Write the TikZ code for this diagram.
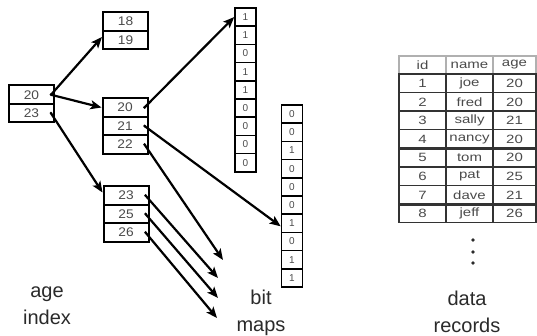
\documentclass[tikz,border=0pt]{standalone}
\usepackage{fontspec}
\setmainfont{Liberation Sans}
\usetikzlibrary{arrows.meta,calc}
\definecolor{celltxt}{HTML}{4A4A4A}
\definecolor{tabline}{HTML}{333333}
\definecolor{headline}{HTML}{B0B0B0}
\definecolor{labeltxt}{HTML}{2A2A2A}
\newcommand{\wid}[1]{\scalebox{1.25}[1]{#1}}
\begin{document}
\begin{tikzpicture}[x=1pt,y=-1pt,
  cell/.style={draw=black,line width=2pt,minimum width=45pt,minimum height=18.5pt,inner sep=0pt,
    font=\fontsize{12.5}{12.5}\selectfont,text=celltxt},
  bitcell/.style={draw=black,line width=1.7pt,minimum width=21pt,minimum height=18.2pt,inner sep=0pt,
    font=\fontsize{10}{10}\selectfont,text=celltxt},
  ptr/.style={line width=2.2pt,-{Stealth[length=11pt,width=9pt,inset=2.5pt]}},
  startdot/.style={fill=black},
  tabtxt/.style={inner sep=0pt,font=\fontsize{12}{12}\selectfont,text=celltxt},
  label/.style={align=center,font=\fontsize{20}{27}\selectfont,text=labeltxt,inner sep=0pt}]
\useasboundingbox (0,0) rectangle (537,336);

% index nodes
\node[cell] (r20) at (31.5,94.75) {\scalebox{1.1}[1]{20}};
\node[cell] (r23) at (31.5,113.25) {\scalebox{1.1}[1]{23}};
\node[cell] (a18) at (125.5,21.5) {\scalebox{1.1}[1]{18}};
\node[cell] (a19) at (125.5,40) {\scalebox{1.1}[1]{19}};
\node[cell] (m20) at (125,107.5) {\scalebox{1.1}[1]{20}};
\node[cell] (m21) at (125,126) {\scalebox{1.1}[1]{21}};
\node[cell] (m22) at (125,144.5) {\scalebox{1.1}[1]{22}};
\node[cell] (l23) at (126,195.5) {\scalebox{1.1}[1]{23}};
\node[cell] (l25) at (126,214) {\scalebox{1.1}[1]{25}};
\node[cell] (l26) at (126,232.5) {\scalebox{1.1}[1]{26}};

% bitmaps
\foreach \v [count=\i] in {1,1,0,1,1,0,0,0,0}
  \node[bitcell] (pa\i) at (245.5,{8+18.2*(\i-0.5)}) {\v};
\foreach \v [count=\i] in {0,0,1,0,0,0,1,0,1,1}
  \node[bitcell] (pb\i) at (292,{105+18.2*(\i-0.5)}) {\v};

% start points
\coordinate (sr20) at ([xshift=-4pt]r20.east);
\coordinate (sr23) at ([xshift=-4pt]r23.east);
\coordinate (sm20) at ([xshift=-4pt]m20.east);
\coordinate (sm21) at ([xshift=-4pt]m21.east);
\coordinate (sm22) at ([xshift=-4pt]m22.east);
\coordinate (sl23) at ([xshift=-4pt]l23.east);
\coordinate (sl25) at ([xshift=-4pt]l25.east);
\coordinate (sl26) at ([xshift=-4pt]l26.east);
\foreach \s in {sr20,sr23,sm20,sm21,sm22,sl23,sl25,sl26}
  \fill[startdot] (\s) circle (1.5pt);

% free ends
\coordinate (e1) at (223,260);
\coordinate (e2) at (218,278);
\coordinate (e3) at (218,298);
\coordinate (e4) at (217,318);

\draw[ptr] (sr20) -- ([yshift=3pt]a19.west);
\draw[ptr] (sr20) -- (m20.west);
\draw[ptr] (sr23) -- ([yshift=3pt]l23.west);
\draw[ptr] (sm20) -- (pa1.west);
\draw[ptr] (sm21) -- ([yshift=-3pt]pb7.west);
\draw[ptr] (sm22) -- (e1);
\draw[ptr] (sl23) -- (e2);
\draw[ptr] (sl25) -- (e3);
\draw[ptr] (sl26) -- (e4);

% data table
\draw[headline,line width=1.2pt] (399,74) -- (399,56) -- (536,56) -- (536,74);
\draw[headline,line width=1.2pt] (446,56) -- (446,74) (493,56) -- (493,74);
\draw[tabline,line width=1.4pt] (399,74) rectangle (536,222.8);
\draw[tabline,line width=1.4pt] (446,74) -- (446,222.8) (493,74) -- (493,222.8);
\foreach \k in {1,2,3,5,6}
  \draw[tabline,line width=1.4pt] (399,{74+18.6*\k}) -- (536,{74+18.6*\k});
\foreach \k in {4,7}
  \draw[tabline,line width=2.8pt] (399,{74+18.6*\k}) -- (536,{74+18.6*\k});

\node[tabtxt] (h1) at (422.5,65) {\wid{id}};
\node[tabtxt] (h2) at (469.5,65) {\wid{name}};
\node[tabtxt] (h3) at (514.5,65) {\wid{age}};
\foreach \a/\b/\c [count=\k] in {1/joe/20,2/fred/20,3/sally/21,4/nancy/20,5/tom/20,6/pat/25,7/dave/21,8/jeff/26}{
  \node[tabtxt] (id\k) at (422.5,{74+18.6*(\k-0.5)}) {\wid{\a}};
  \node[tabtxt] (nm\k) at (469.5,{74+18.6*(\k-0.5)}) {\wid{\b}};
  \node[tabtxt] (ag\k) at (514.5,{74+18.6*(\k-0.5)}) {\wid{\c}};
}

% continuation dots
\foreach \y in {240,252,263}
  \fill[labeltxt] (473,\y) circle (1.8pt);

% labels
\node[label] (lbl1) at (47,306) {age\\index};
\node[label] (lbl2) at (261,313) {bit\\maps};
\node[label] (lbl3) at (467,312) {data\\records};
\end{tikzpicture}
\end{document}
